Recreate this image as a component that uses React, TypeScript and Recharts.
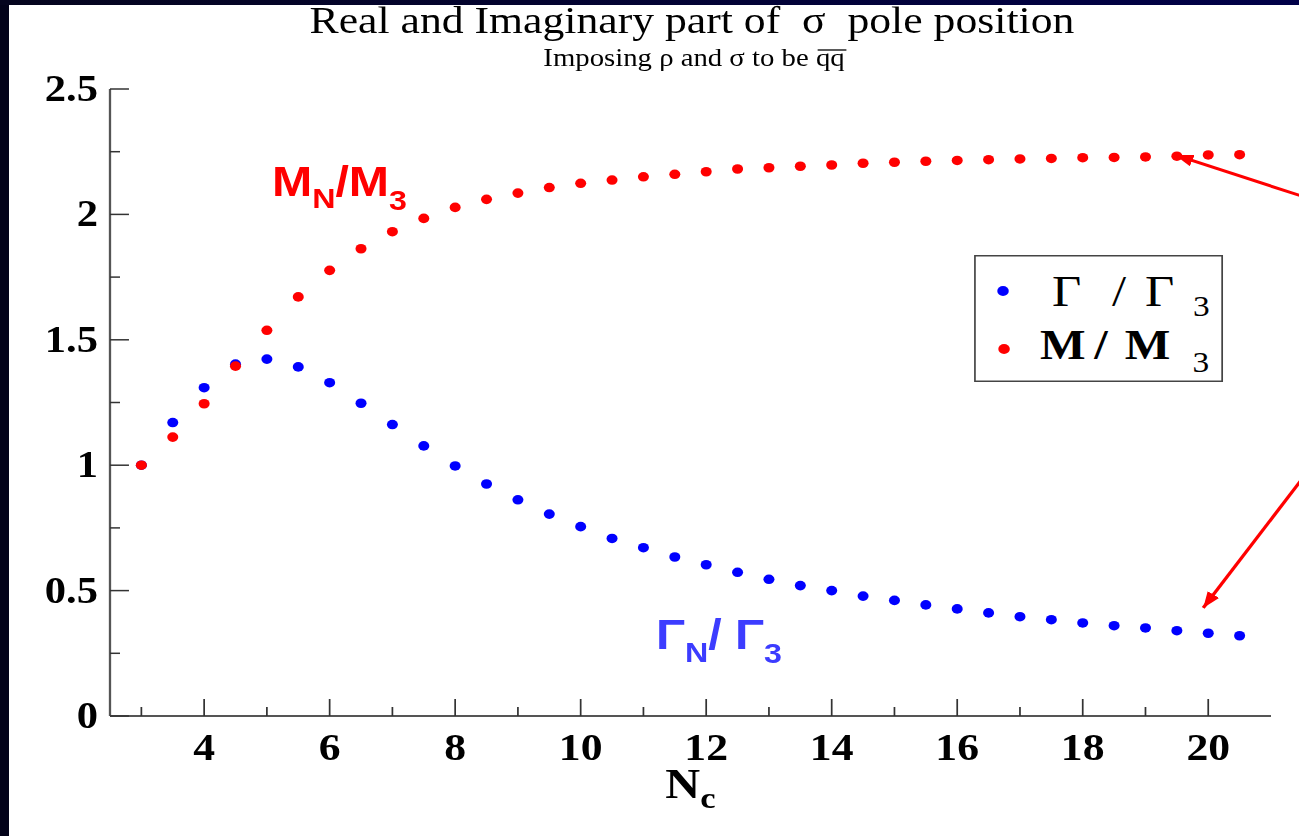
import React from 'react';
import { ScatterChart, Scatter, XAxis, YAxis, ReferenceLine, Legend } from 'recharts';

// N_c values (x axis)
const nc = [
  3, 3.5, 4, 4.5, 5, 5.5, 6, 6.5, 7, 7.5, 8, 8.5, 9, 9.5, 10, 10.5, 11, 11.5,
  12, 12.5, 13, 13.5, 14, 14.5, 15, 15.5, 16, 16.5, 17, 17.5, 18, 18.5, 19, 19.5, 20, 20.5,
];

// Gamma_N / Gamma_3
const widthRatio = [
  1.0, 1.17, 1.309, 1.403, 1.423, 1.392, 1.329, 1.247, 1.162, 1.077, 0.997, 0.925,
  0.862, 0.805, 0.755, 0.708, 0.671, 0.634, 0.603, 0.573, 0.545, 0.52, 0.5, 0.478,
  0.461, 0.443, 0.427, 0.411, 0.396, 0.384, 0.371, 0.36, 0.351, 0.34, 0.33, 0.32,
];

// M_N / M_3
const massRatio = [
  1.0, 1.112, 1.245, 1.395, 1.538, 1.671, 1.777, 1.863, 1.931, 1.984, 2.028, 2.06,
  2.085, 2.107, 2.124, 2.137, 2.15, 2.16, 2.17, 2.181, 2.186, 2.192, 2.197, 2.204,
  2.208, 2.212, 2.215, 2.218, 2.221, 2.223, 2.226, 2.227, 2.229, 2.232, 2.237, 2.238,
];

const xTicks = [3, 4, 5, 6, 7, 8, 9, 10, 11, 12, 13, 14, 15, 16, 17, 18, 19, 20];
const yTicks = [0, 0.25, 0.5, 0.75, 1, 1.25, 1.5, 1.75, 2, 2.25, 2.5];

const WIDTH_NAME = 'Γ / Γ3';
const MASS_NAME = 'M / M3';

// arrows pointing at the large-N_c end of both curves
const arrowToMass = [{ x: 21.54, y: 2.069 }, { x: 19.47, y: 2.237 }];
const arrowToWidth = [{ x: 21.54, y: 0.96 }, { x: 19.92, y: 0.431 }];

const widthData = nc.map((n, i) => ({ nc: n, ratio: widthRatio[i] }));
const massData = nc.map((n, i) => ({ nc: n, ratio: massRatio[i] }));

const SERIF = "'Liberation Serif', 'Times New Roman', serif";
const SANS = "'Liberation Sans', Arial, sans-serif";
const FRAME = '#555';
const TICK = '#333';

// the plot is drawn narrow and stretched sideways
const SX = 1.15;
const W = 1299 / SX;

const BottomTick = ({ x, y, payload }: any) => {
  const v = payload.value as number;
  const major = v % 2 === 0;
  return (
    <g>
      <line x1={x} x2={x} y1={y} y2={y - (major ? 17 : 9)} stroke={TICK} strokeWidth={1.5} />
      {major && (
        <text x={x} y={y + 44} textAnchor="middle" fontFamily={SERIF} fontSize={38} fontWeight="bold" fill="#000">
          {v}
        </text>
      )}
    </g>
  );
};

const TopTick = ({ x, y, payload }: any) => {
  const major = (payload.value as number) % 2 === 0;
  return <line x1={x} x2={x} y1={y} y2={y + (major ? 17 : 9)} stroke={TICK} strokeWidth={1.5} />;
};

const LeftTick = ({ x, y, payload }: any) => {
  const v = payload.value as number;
  const major = Number.isInteger(v * 2);
  return (
    <g>
      <line x1={x} x2={x + (major ? 16.5 : 8.7)} y1={y} y2={y} stroke={TICK} strokeWidth={1.5} />
      {major && (
        <text x={x - 10.5} y={y + 12} textAnchor="end" fontFamily={SERIF} fontSize={37} fontWeight="bold" fill="#000">
          {String(v)}
        </text>
      )}
    </g>
  );
};

const RightTick = ({ x, y, payload }: any) => {
  const major = Number.isInteger((payload.value as number) * 2);
  return <line x1={x} x2={x - (major ? 16.5 : 8.7)} y1={y} y2={y} stroke={TICK} strokeWidth={1.5} />;
};

const dot = (color: string) => (p: any) => <circle cx={p.cx} cy={p.cy} r={4.8} fill={color} />;

const arrowShape = (p: any) => (
  <line x1={p.x1} y1={p.y1} x2={p.x2} y2={p.y2} stroke="#ff0000" strokeWidth={3} markerEnd="url(#redArrow)" />
);

const renderLegend = (props: any) => {
  const items: any[] = props.payload ?? [];
  const gColor = items.find((it) => it.value === WIDTH_NAME)?.color ?? '#0000ff';
  const mColor = items.find((it) => it.value === MASS_NAME)?.color ?? '#ff0000';
  return (
    <svg width={216.5} height={127} style={{ display: 'block' }}>
      <rect x={0.75} y={0.75} width={215} height={125.5} fill="#fff" stroke="#444" strokeWidth={1.5} />
      <circle cx={25.2} cy={36} r={5} fill={gColor} />
      <text y={51} fontFamily={SERIF} fontSize={44} fill="#000">
        <tspan x={67.8}>Γ</tspan>
        <tspan x={120}>/</tspan>
        <tspan x={148.7}>Γ</tspan>
        <tspan x={190.4} dy={10} fontSize={29}>3</tspan>
      </text>
      <circle cx={26.1} cy={94} r={5} fill={mColor} />
      <text y={104} fontFamily={SERIF} fontSize={42} fontWeight="bold" fill="#000">
        <tspan x={57.4}>M</tspan>
        <tspan x={104.5}>/</tspan>
        <tspan x={131}>M</tspan>
        <tspan x={190} dy={13} fontSize={29} fontWeight="normal">3</tspan>
      </text>
    </svg>
  );
};

export default function App() {
  return (
    <div style={{ position: 'fixed', left: 0, top: 0, width: 1299, height: 836, background: '#fff', overflow: 'hidden' }}>
      <div style={{ position: 'absolute', left: 0, top: 0, width: W, height: 836, transform: `scaleX(${SX})`, transformOrigin: '0 0' }}>
        <ScatterChart width={W} height={836} margin={{ top: 89, right: 24.35, bottom: 0, left: 0 }}>
          <XAxis
            type="number"
            dataKey="nc"
            domain={[2.5, 21]}
            ticks={xTicks}
            interval={0}
            allowDataOverflow
            height={120}
            tickSize={0}
            tickMargin={0}
            tickLine={false}
            axisLine={{ stroke: FRAME, strokeWidth: 2 }}
            tick={BottomTick}
          />
          <XAxis
            xAxisId="top"
            orientation="top"
            type="number"
            domain={[2.5, 21]}
            ticks={xTicks}
            interval={0}
            allowDataOverflow
            height={0}
            tickSize={0}
            tickMargin={0}
            tickLine={false}
            axisLine={{ stroke: FRAME, strokeWidth: 2 }}
            tick={TopTick}
          />
          <YAxis
            type="number"
            dataKey="ratio"
            domain={[0, 2.5]}
            ticks={yTicks}
            interval={0}
            allowDataOverflow
            width={95.65}
            tickSize={0}
            tickMargin={0}
            tickLine={false}
            axisLine={{ stroke: FRAME, strokeWidth: 2 }}
            tick={LeftTick}
          />
          <YAxis
            yAxisId="right"
            orientation="right"
            type="number"
            domain={[0, 2.5]}
            ticks={yTicks}
            interval={0}
            allowDataOverflow
            width={0}
            tickSize={0}
            tickMargin={0}
            tickLine={false}
            axisLine={{ stroke: FRAME, strokeWidth: 2 }}
            tick={RightTick}
          />
          <Scatter name={WIDTH_NAME} data={widthData} fill="#0000ff" shape={dot('#0000ff')} isAnimationActive={false} />
          <Scatter name={MASS_NAME} data={massData} fill="#ff0000" shape={dot('#ff0000')} isAnimationActive={false} />
          <ReferenceLine segment={arrowToMass} ifOverflow="visible" shape={arrowShape} />
          <ReferenceLine segment={arrowToWidth} ifOverflow="visible" shape={arrowShape} />
          <Legend
            layout="vertical"
            align="center"
            verticalAlign="middle"
            wrapperStyle={{ left: 847, top: 255, width: 216.5, height: 127 }}
            content={renderLegend}
          />
        </ScatterChart>
        <svg width={W} height={836} style={{ position: 'absolute', left: 0, top: 0, pointerEvents: 'none' }}>
          <defs>
            <marker id="redArrow" viewBox="0 0 16 12" refX={16} refY={6} markerWidth={16} markerHeight={12} markerUnits="userSpaceOnUse" orient="auto">
              <path d="M0,0 L16,6 L0,12 z" fill="#ff0000" />
            </marker>
          </defs>
          <text x={601.7} y={33} textAnchor="middle" fontFamily={SERIF} fontSize={38} fill="#000" style={{ whiteSpace: 'pre' }}>
            Real and Imaginary part of  σ  pole position
          </text>
          <text x={603.5} y={66} textAnchor="middle" fontFamily={SERIF} fontSize={25} fill="#000" style={{ whiteSpace: 'pre' }}>
            Imposing ρ and σ to be qq
          </text>
          {/* bar over the qq */}
          <line x1={711} x2={736} y1={50} y2={50} stroke="#000" strokeWidth={1.3} />
          <text x={236.5} y={196} fontFamily={SANS} fontWeight="bold" fontSize={42} fill="#ff0000">
            M<tspan fontSize={28} dy={12}>N</tspan>
            <tspan dy={-12}>/M</tspan>
            <tspan fontSize={28} dy={14}>3</tspan>
          </text>
          <text x={570.4} y={649} fontFamily={SANS} fontWeight="bold" fontSize={42} fill="#3c3cff" style={{ whiteSpace: 'pre' }}>
            Γ<tspan fontSize={28} dy={13}>N</tspan>
            <tspan dy={-13}>/ Γ</tspan>
            <tspan fontSize={28} dy={14}>3</tspan>
          </text>
          <text x={600.4} y={798} textAnchor="middle" fontFamily={SERIF} fontWeight="bold" fontSize={42} fill="#000">
            N<tspan fontSize={30} dy={10}>c</tspan>
          </text>
        </svg>
      </div>
      <div style={{ position: 'absolute', left: 0, top: 0, width: 9, height: 836, background: '#03031a' }} />
      <div style={{ position: 'absolute', left: 0, top: 0, width: 1299, height: 5, background: 'linear-gradient(to right, #05051e, #000048)' }} />
    </div>
  );
}
